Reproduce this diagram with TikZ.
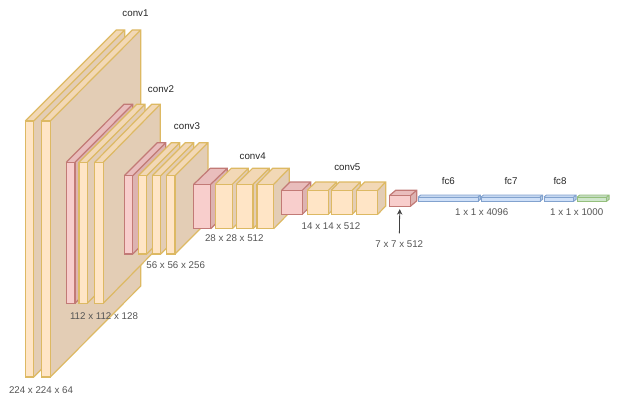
\documentclass[tikz,border=0pt]{standalone}
\usepackage{fontspec}
\setmainfont{Liberation Sans}
\usetikzlibrary{arrows.meta}

\definecolor{yfront}{HTML}{FFE5C6}
\definecolor{ytop}{HTML}{F2D8B6}
\definecolor{yside}{HTML}{E3CDB5}
\definecolor{yline}{HTML}{DDB963}
\definecolor{pfront}{HTML}{F8CECC}
\definecolor{ptop}{HTML}{E9BDBC}
\definecolor{pside}{HTML}{DDB3B1}
\definecolor{pline}{HTML}{C27A76}
\definecolor{bfront}{HTML}{CFE0F8}
\definecolor{btop}{HTML}{C6D8F0}
\definecolor{bside}{HTML}{B8CCE4}
\definecolor{bline}{HTML}{82A2CE}
\definecolor{gfront}{HTML}{CFE6CC}
\definecolor{gtop}{HTML}{C4DCC0}
\definecolor{gside}{HTML}{B8D1B4}
\definecolor{gline}{HTML}{94BF7C}
\definecolor{dimtext}{HTML}{555555}

\tikzset{
	layername/.style={font=\fontsize{9.75}{11}\selectfont,text=black!85},
	dimname/.style={font=\fontsize{9.75}{11}\selectfont,text=dimtext},
	boxline/.style={line width=1.2pt,line join=miter},
	barline/.style={boxline,line width=0.9pt},
	pointer/.style={-{Stealth[length=5.5pt,width=5.5pt]},line width=0.8pt,color=black!75,shorten <=3.6pt,shorten >=2.9pt},
}

% [#1] line style, #2 name, #3 colour prefix, #4 left, #5 right, #6 top, #7 bottom, #8 depth x, #9 depth y
\newcommand{\cuboid}[9][boxline]{
	\fill[#3side] (#5,#6) -- ++(#8,-#9) -- ++(0,#7-#6) -- (#5,#7) -- cycle;% side
	\fill[#3top] (#4,#6) -- ++(#8,-#9) -- ++(#5-#4,0) -- (#5,#6) -- cycle;% top
	\fill[#3front] (#4,#6) rectangle (#5,#7);% front
	\draw[#3line,#1] (#4,#6) -- ++(#8,-#9) -- ++(#5-#4,0) -- ++(0,#7-#6) -- (#5,#7) (#5,#6) -- ++(#8,-#9);
	\draw[#3line,#1] (#4,#6) rectangle (#5,#7);
	\coordinate (#2) at ({(#4+#5)/2},#7);
}

\begin{document}
\begin{tikzpicture}[x=1pt,y=-1pt]
	\useasboundingbox (0,0) rectangle (618,404);

	\cuboid{conva}{y}{25.3}{33.7}{121}{377}{91}{91}
	\cuboid{convb}{y}{41.7}{50.3}{121}{377}{90.5}{91}

	\cuboid{poola}{p}{66.3}{75}{162.3}{303.3}{57.7}{58}
	\cuboid{convc}{y}{79}{87.3}{162.3}{303.3}{57.7}{58}
	\cuboid{convd}{y}{94.7}{103.3}{162.3}{303.3}{57}{58}

	\cuboid{poolb}{p}{124.3}{132.7}{175.7}{254}{33}{33}
	\cuboid{conve}{y}{138.3}{146.7}{175.7}{254}{33}{33}
	\cuboid{convf}{y}{152.3}{160.7}{175.7}{254}{33}{33}
	\cuboid{convg}{y}{166.3}{175}{175.7}{254}{33}{33}

	\cuboid{poolc}{p}{193.7}{210.7}{184.3}{228.7}{16.6}{16}
	\cuboid{convh}{y}{215.3}{232.3}{184.3}{228.7}{16}{16}
	\cuboid{convi}{y}{236.3}{253}{184.3}{228.7}{16.3}{16}
	\cuboid{convj}{y}{257}{273.7}{184.3}{228.7}{15.6}{16}

	\cuboid{poold}{p}{281.7}{302.3}{190.3}{214.3}{8.4}{8.3}
	\cuboid{convk}{y}{307.3}{328.3}{190.3}{214.3}{8.4}{8.3}
	\cuboid{convl}{y}{331.3}{352.3}{190.3}{214.3}{8}{8.3}
	\cuboid{convm}{y}{356.7}{377.7}{190.3}{214.3}{8}{8.3}

	\cuboid{poole}{p}{389.3}{410.3}{195.7}{206.3}{6.4}{5.4}

	\cuboid[barline]{fca}{b}{418.3}{478}{197}{201.3}{2.4}{2}
	\cuboid[barline]{fcb}{b}{481}{540}{197}{201.3}{2.6}{2}
	\cuboid[barline]{fcc}{b}{544}{573.7}{197}{201.3}{2.4}{2}
	\cuboid[barline]{fcd}{g}{577.3}{606.7}{197}{201.3}{2.4}{2}

	\node[layername] (nameconva) at (135.5,13) {conv1};
	\node[layername] (nameconvb) at (161,89) {conv2};
	\node[layername] (nameconvc) at (187,126) {conv3};
	\node[layername] (nameconvd) at (252.7,155.7) {conv4};
	\node[layername] (nameconve) at (347.3,167.3) {conv5};
	\node[layername] (namefca) at (448.3,181) {fc6};
	\node[layername] (namefcb) at (511,181) {fc7};
	\node[layername] (namefcc) at (560,181) {fc8};

	\node[dimname] (dima) at (41,390.3) {224 x 224 x 64};
	\node[dimname] (dimb) at (104,316) {112 x 112 x 128};
	\node[dimname] (dimc) at (175.7,265) {56 x 56 x 256};
	\node[dimname] (dimd) at (234.3,238) {28 x 28 x 512};
	\node[dimname] (dime) at (331,225.7) {14 x 14 x 512};
	\node[dimname] (dimf) at (399.3,244) {7 x 7 x 512};
	\node[dimname] (dimg) at (481.7,211.7) {1 x 1 x 4096};
	\node[dimname] (dimh) at (576.7,211.7) {1 x 1 x 1000};

	\draw[pointer] (dimf.north) -- (poole);
\end{tikzpicture}
\end{document}
